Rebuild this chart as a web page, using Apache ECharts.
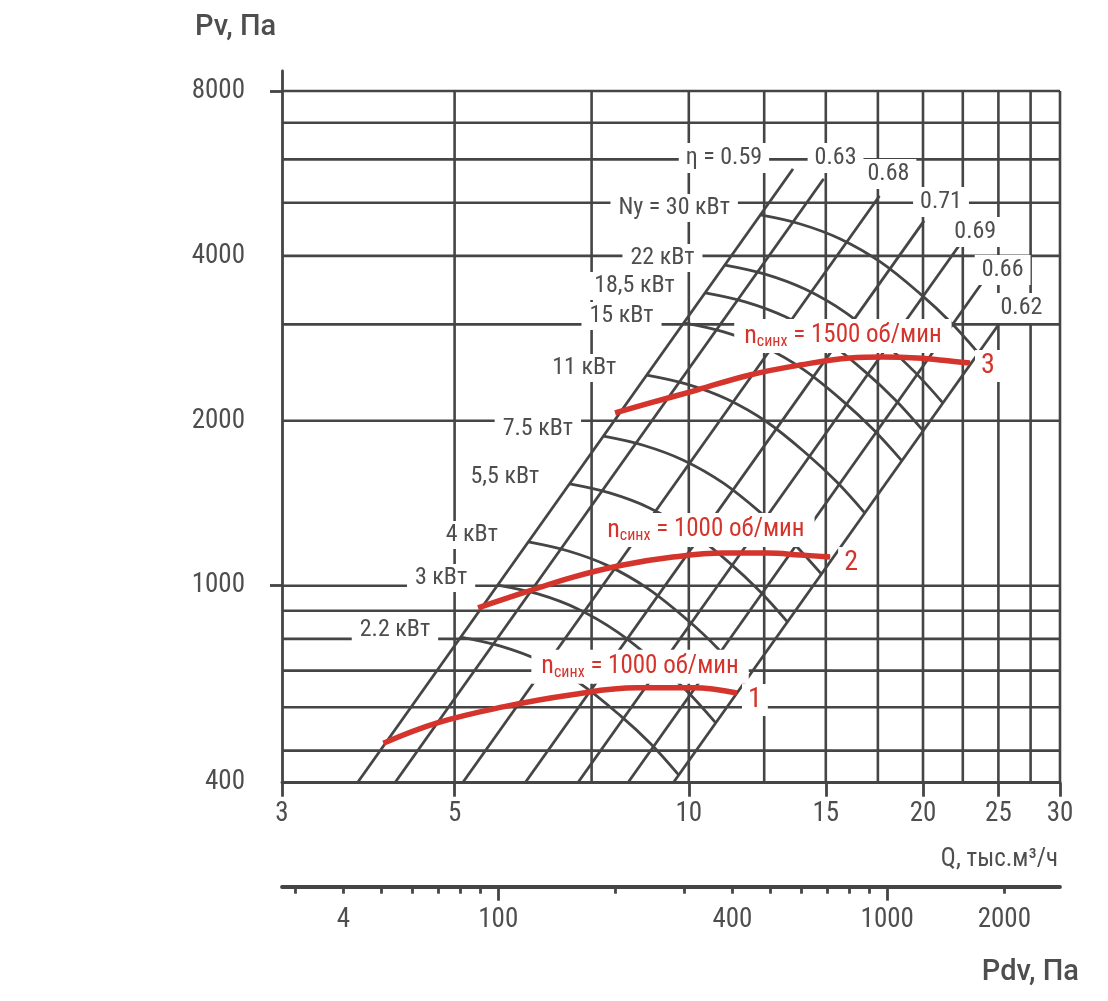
<!DOCTYPE html>
<html><head><meta charset="utf-8">
<script src="https://cdn.jsdelivr.net/npm/echarts@6/dist/echarts.min.js"></script>
<style>html,body{margin:0;padding:0;background:#fff}#c{width:1108px;height:1001px}</style>
</head><body><div id="c"></div>
<script>
// ---- axes ----
const Q_MIN = 3, Q_MAX = 30;
const P_MIN = 437, P_TOP = 8000, P_AXIS_MAX = 8700;
const Q_TICKS = [3, 5, 10, 15, 20, 25, 30];
const Q_GRID = [5, 7.5, 10, 12.5, 15, 17.5, 20, 22.5, 25, 27.5, 30];
const P_GRID = [500, 600, 700, 800, 900, 1000, 2000, 3000, 4000, 5000, 6000, 7000, 8000];
const P_LABEL_VALUES = [437, 1000, 2000, 4000, 8000];
const P_LABELS = ['400', '1000', '2000', '4000', '8000'];
const P_TICK_VALUES = [1000, 8000];
const PDV_MIN = 27.8, PDV_MAX = 2781;
const PDV_MINOR_TICKS = [30, 40, 50, 60, 70, 80, 90, 200, 300, 400, 500, 600, 700, 800, 900, 2000];
const PDV_MAJOR_TICKS = [100, 1000];
const PDV_LABEL_VALUES = [40, 100, 400, 1000, 2000];
const PDV_LABELS = ['4', '100', '400', '1000', '2000'];

// ---- efficiency lines (bottom Q at axis bottom, top end) ----
const ETA_NAMES = ['η = 0.59', '0.63', '0.68', '0.71', '0.69', '0.66', '0.62'];
const ETA_BOTTOM_Q = [3.75, 4.19, 5.12, 6.16, 7.20, 8.35, 9.55];
const ETA_TOP_Q = [13.61, 14.90, 17.58, 20.06, 22.33, 23.86, 25.15];
const ETA_TOP_P = [5764, 5527, 5145, 4633, 4205, 3584, 3029];

// ---- power curves Ny ----
const NY_NAMES = ['Ny = 30 кВт', '22 кВт', '18,5 кВт', '15 кВт', '11 кВт', '7.5 кВт', '5,5 кВт', '4 кВт', '3 кВт', '2.2 кВт'];
const NY_30 = [[12.36, 4750], [13.91, 4574], [15.66, 4295], [17.63, 3899], [19.84, 3409], [21.69, 3029], [23.56, 2659]];
const NY_22 = [[11.13, 3849], [12.53, 3706], [14.10, 3480], [15.87, 3159], [17.87, 2762], [19.53, 2454], [21.22, 2155]];
const NY_18_5 = [[10.50, 3424], [11.82, 3297], [13.31, 3096], [14.98, 2810], [16.86, 2457], [18.43, 2183], [20.02, 1917]];
const NY_15 = [[9.86, 3018], [11.09, 2906], [12.49, 2729], [14.06, 2477], [15.82, 2166], [17.29, 1924], [18.79, 1690]];
const NY_11 = [[8.83, 2424], [9.94, 2334], [11.19, 2192], [12.60, 1990], [14.18, 1740], [15.50, 1546], [16.84, 1357]];
const NY_7_5 = [[7.77, 1875], [8.74, 1805], [9.84, 1695], [11.08, 1539], [12.47, 1346], [13.63, 1196], [14.81, 1050]];
const NY_5_5 = [[7.03, 1534], [7.91, 1477], [8.90, 1387], [10.02, 1259], [11.28, 1101], [12.33, 978], [13.39, 859]];
const NY_4 = [[6.22, 1202], [7.00, 1157], [7.88, 1087], [8.87, 987], [9.99, 863], [10.92, 766], [11.86, 673]];
const NY_3 = [[5.68, 1003], [6.40, 966], [7.20, 907], [8.10, 823], [9.12, 720], [9.97, 640], [10.83, 562]];
const NY_2_2 = [[5.09, 806], [5.73, 776], [6.45, 729], [7.26, 662], [8.18, 578], [8.94, 514], [9.71, 451]];
const NY_CURVES = [NY_30, NY_22, NY_18_5, NY_15, NY_11, NY_7_5, NY_5_5, NY_4, NY_3, NY_2_2];

// ---- fan characteristics (red) ----
const RED_3 = [[8.04, 2067], [8.92, 2156], [10.24, 2276], [11.98, 2425], [13.90, 2528], [16.11, 2604], [17.77, 2615], [19.65, 2604], [21.67, 2572], [22.98, 2550]];
const RED_2 = [[5.36, 911], [6.12, 970], [7.10, 1037], [8.23, 1091], [9.54, 1128], [11.06, 1147], [12.61, 1147], [13.90, 1138], [15.19, 1128]];
const RED_1 = [[4.05, 516], [4.75, 562], [5.77, 601], [7.04, 632], [8.58, 651], [10.12, 651], [11.53, 637]];
const RED_NAMES = ['1500', '1000', '1000'];
const RED_NUMBERS = ['3', '2', '1'];

// ---- style ----
const FONT = "'Roboto Condensed','Liberation Sans Narrow','Arial Narrow',Roboto,sans-serif";
const GRAY = '#454545', TEXT = '#4e4e4e', RED = '#d4342b';
const ETA_LABEL_OFFSETS = [[-69, -11], [12, -21], [9, -22], [17, -19], [15, -12], [20, -12], [21, -14]];
const RED_LABEL_INDEX = [5, 5, 4];
const RED_LABEL_OFFSETS = [[-7, -22], [-17, -23], [3, -21]];
const RED_NUM_OFFSETS = [[18, 3], [21, 6], [18, 7]];

function pick(values, labels, v) {
  let best = 0, bd = Infinity;
  values.forEach((x, i) => { const d = Math.abs(Math.log(x) - Math.log(v)); if (d < bd) { bd = d; best = i; } });
  return labels[best];
}

const series = [];
P_GRID.forEach(p => series.push({
  type: 'line', z: 1, silent: true, symbol: 'none',
  data: [[Q_MIN, p], [Q_MAX, p]], lineStyle: { color: GRAY, width: 2.6 }
}));
Q_GRID.forEach(q => series.push({
  type: 'line', z: 1, silent: true, symbol: 'none',
  data: [[q, P_MIN], [q, P_TOP]], lineStyle: { color: GRAY, width: 2.6 }
}));
ETA_NAMES.forEach((name, i) => series.push({
  type: 'line', z: 2, silent: true, symbol: 'none', showSymbol: true,
  lineStyle: { color: GRAY, width: 2.8 }, itemStyle: { color: GRAY },
  data: [[ETA_BOTTOM_Q[i], P_MIN], {
    value: [ETA_TOP_Q[i], ETA_TOP_P[i]], symbol: 'circle', symbolSize: 1,
    label: { show: true, position: 'inside', offset: ETA_LABEL_OFFSETS[i], formatter: name,
      backgroundColor: '#fff', padding: [3, 7], color: TEXT, fontSize: 24, fontFamily: FONT }
  }]
}));
NY_CURVES.forEach((curve, i) => series.push({
  type: 'line', z: 2, silent: true, symbol: 'none', showSymbol: true, smooth: 0.35,
  lineStyle: { color: GRAY, width: 2.8 }, itemStyle: { color: GRAY },
  data: curve.map((pt, j) => j === 0 ? {
    value: pt, symbol: 'circle', symbolSize: 1,
    label: { show: true, position: 'left', distance: 22, offset: [0, -7], formatter: NY_NAMES[i],
      backgroundColor: '#fff', padding: [2, 8], color: TEXT, fontSize: 24, fontFamily: FONT }
  } : pt)
}));
[RED_3, RED_2, RED_1].forEach((curve, i) => series.push({
  type: 'line', z: 4, silent: true, symbol: 'none', showSymbol: true, smooth: 0.4,
  lineStyle: { color: RED, width: 5.5 }, itemStyle: { color: RED },
  data: curve.map((pt, j) => {
    if (j === RED_LABEL_INDEX[i]) return {
      value: pt, symbol: 'circle', symbolSize: 1,
      label: { show: true, position: 'inside', offset: RED_LABEL_OFFSETS[i],
        formatter: '{n|n}{s|синх}{t| = ' + RED_NAMES[i] + ' об/мин}',
        backgroundColor: '#fff', padding: [3, 10],
        rich: {
          n: { fontSize: 26, color: RED, fontFamily: FONT, lineHeight: 28 },
          s: { fontSize: 16, color: RED, fontFamily: FONT, lineHeight: 17, verticalAlign: 'bottom' },
          t: { fontSize: 25, color: RED, fontFamily: FONT, lineHeight: 28 }
        } }
    };
    if (j === curve.length - 1) return {
      value: pt, symbol: 'circle', symbolSize: 1,
      label: { show: true, position: 'inside', offset: RED_NUM_OFFSETS[i], formatter: RED_NUMBERS[i],
        backgroundColor: '#fff', padding: [2, 6], color: RED, fontSize: 28, fontFamily: FONT }
    };
    return pt;
  })
}));

const axisText = { color: TEXT, fontSize: 27, fontFamily: FONT };
const option = {
  animation: false,
  backgroundColor: '#ffffff',
  title: [
    { text: 'Pv, Па', left: 190, top: 8, textStyle: { color: TEXT, fontSize: 29, fontWeight: 500, fontFamily: 'Roboto' } },
    { text: 'Q, тыс.м³/ч', right: 45, top: 842, textStyle: { color: TEXT, fontSize: 25, fontWeight: 'normal', fontFamily: FONT } },
    { text: 'Pdv, Па', right: 24, top: 953, textStyle: { color: TEXT, fontSize: 29, fontWeight: 500, fontFamily: 'Roboto' } }
  ],
  grid: { left: 282, right: 48, top: 71, bottom: 218.3 },
  xAxis: [
    { type: 'log', min: Q_MIN, max: Q_MAX, position: 'bottom',
      axisLine: { show: true, lineStyle: { color: GRAY, width: 2.8 } },
      axisTick: { show: true, customValues: Q_TICKS, length: 14, lineStyle: { color: GRAY, width: 2.8 } },
      axisLabel: { ...axisText, margin: 18, customValues: Q_TICKS, formatter: v => pick(Q_TICKS, Q_TICKS.map(String), v) },
      splitLine: { show: false }, minorTick: { show: false } },
    { type: 'log', min: PDV_MIN, max: PDV_MAX, position: 'bottom', offset: 104,
      axisLine: { show: true, lineStyle: { color: GRAY, width: 3.8 } },
      axisTick: { show: true, customValues: PDV_MINOR_TICKS, length: 7, lineStyle: { color: GRAY, width: 2.8 } },
      axisLabel: { show: false }, splitLine: { show: false } },
    { type: 'log', min: PDV_MIN, max: PDV_MAX, position: 'bottom', offset: 104,
      axisLine: { show: false },
      axisTick: { show: true, customValues: PDV_MAJOR_TICKS, length: 14, lineStyle: { color: GRAY, width: 2.8 } },
      axisLabel: { ...axisText, margin: 20, customValues: PDV_LABEL_VALUES, formatter: v => pick(PDV_LABEL_VALUES, PDV_LABELS, v) },
      splitLine: { show: false } }
  ],
  yAxis: { type: 'log', min: P_MIN, max: P_AXIS_MAX,
    axisLine: { show: true, lineStyle: { color: GRAY, width: 2.8 } },
    axisTick: { show: true, customValues: P_TICK_VALUES, length: 12, lineStyle: { color: GRAY, width: 2.8 } },
    axisLabel: { ...axisText, margin: 37, customValues: P_LABEL_VALUES, formatter: v => pick(P_LABEL_VALUES, P_LABELS, v) },
    splitLine: { show: false } },
  series: series
};
const chart = echarts.init(document.getElementById('c'), null, { renderer: 'canvas' });
chart.setOption(option);
</script></body></html>
